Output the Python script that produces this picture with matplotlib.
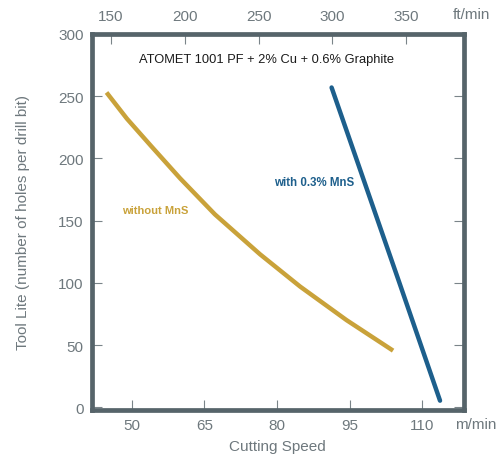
import matplotlib
matplotlib.use("Agg")
import matplotlib.pyplot as plt
import numpy as np

plt.rcParams['font.family'] = ['Liberation Sans', 'DejaVu Sans']

# Data
speed_without = [44.8, 49.0, 54.0, 60.0, 67.2, 76.5, 84.8, 94.4, 104.0]
life_without = [253, 232, 210, 184, 155, 123, 97, 70, 45.5]
speed_with = [91.3, 105.4, 113.7]
life_with = [257, 99, 5.3]

m_ticks = [50, 65, 80, 95, 110]
ft_ticks = [150, 200, 250, 300, 350]
y_ticks = [0, 50, 100, 150, 200, 250, 300]

title = "ATOMET 1001 PF + 2% Cu + 0.6% Graphite"
label_without = "without MnS"
label_with = "with 0.3% MnS"

GOLD = "#c9a23a"
BLUE = "#1d5f8c"
SPINE = "#56646a"
TICKTXT = "#6e787d"

fig = plt.figure(figsize=(5.04, 4.56), dpi=100)
ax = fig.add_axes([92/504, 1-411/456, (463.5-92)/504, (411-35)/456])

ax.plot(speed_without, life_without, color=GOLD, lw=3.2, solid_capstyle='butt',
        solid_joinstyle='round')
ax.plot(speed_with, life_with, color=BLUE, lw=3.2, solid_capstyle='round',
        solid_joinstyle='round')

ax.set_xlim(41.8, 118.55)
ax.set_ylim(-2.2, 300)

for s in ax.spines.values():
    s.set_color(SPINE)
    s.set_linewidth(3.4)

ax.set_xticks(m_ticks)
ax.set_yticks(y_ticks)
ax.tick_params(axis='both', direction='in', length=7, width=0.8, color='#7a8489',
               labelcolor=TICKTXT, labelsize=11, pad=6)
ax.tick_params(axis='y', right=True, labelright=False)

sec = ax.secondary_xaxis('top', functions=(lambda m: m * 3.28084, lambda f: f / 3.28084))
sec.set_xticks(ft_ticks)
sec.tick_params(direction='in', length=7, width=0.8, color='#7a8489',
                labelcolor=TICKTXT, labelsize=11, pad=8)
sec.spines['top'].set_visible(False)

ax.set_xlabel("Cutting Speed", color=TICKTXT, fontsize=11, labelpad=5)
ax.set_ylabel("Tool Lite (number of holes per drill bit)", color=TICKTXT, fontsize=11, labelpad=20)

fig.text(476/504, 1-425/456, "m/min", color=TICKTXT, fontsize=11, ha='center', va='center')
fig.text(471/504, 1-15/456, "ft/min", color=TICKTXT, fontsize=11, ha='center', va='center')

ax.text(0.47, 0.934, title, transform=ax.transAxes, ha='center', va='center',
        fontsize=9.3, color='#1a1a1a')
ax.text(314/504, 1-183/456, label_with, transform=fig.transFigure, ha='center', va='center',
        fontsize=8.3, color=BLUE, fontweight='bold')
ax.text(155/504, 1-211/456, label_without, transform=fig.transFigure, ha='center', va='center',
        fontsize=8.0, color=GOLD, fontweight='bold')

fig.savefig("out.png", dpi=100)
